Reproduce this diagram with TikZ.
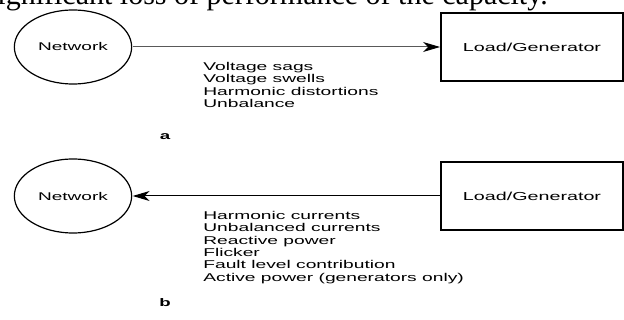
\documentclass[tikz,border=0pt]{standalone}
\usepackage{fontspec}
\setmainfont{Liberation Sans}
\newfontfamily\pageserif{Liberation Serif}
\usetikzlibrary{shapes,arrows.meta,calc,positioning}

\begin{document}
\begin{tikzpicture}[x=1pt,y=-1pt,
  wide/.style={xscale=1.7,transform shape},
  netw/.style={wide,ellipse,draw,line width=1.2pt,minimum width=69pt,minimum height=74pt,inner sep=0pt,font=\fontsize{11.2}{13}\selectfont},
  loadbox/.style={wide,rectangle,draw,line width=1.2pt,minimum width=107pt,minimum height=68pt,inner sep=0pt,font=\fontsize{11.6}{13}\selectfont},
  lbl/.style={wide,anchor=north west,align=left,inner sep=0pt,font=\fontsize{11.3}{12.4}\selectfont},
  tag/.style={wide,inner sep=0pt,font=\fontsize{11}{13}\selectfont\bfseries},
  flow/.style={line width=1pt,-{Stealth[length=17pt,width=10pt,inset=5pt,color=black]}}]
  \useasboundingbox (0,0) rectangle (624,320);
  \clip (0,0) rectangle (624,320);
  % page text cut by the figure
  \node[anchor=base east,inner sep=0pt,font=\pageserif\fontsize{30}{32}\selectfont] (pageline) at (548,5) {significant loss of performance of the capacity.};

  % a
  \node[netw] (netA) at (73,47) {Network};
  \node[loadbox] (loadA) at (532,47) {Load/Generator};
  \draw[flow,black!65] (netA.east) -- (loadA.west);
  \node[lbl] (effA) at (203,62) {Voltage sags\\Voltage swells\\Harmonic distortions\\Unbalance};
  \node[tag] (tagA) at (165,137) {a};

  % b
  \node[netw] (netB) at (73,196) {Network};
  \node[loadbox] (loadB) at (532,196) {Load/Generator};
  \draw[flow] (loadB.west) -- (netB.east);
  \node[lbl] (effB) at (203,211) {Harmonic currents\\Unbalanced currents\\Reactive power\\Flicker\\Fault level contribution\\Active power (generators only)};
  \node[tag] (tagB) at (165,303) {b};
\end{tikzpicture}
\end{document}
